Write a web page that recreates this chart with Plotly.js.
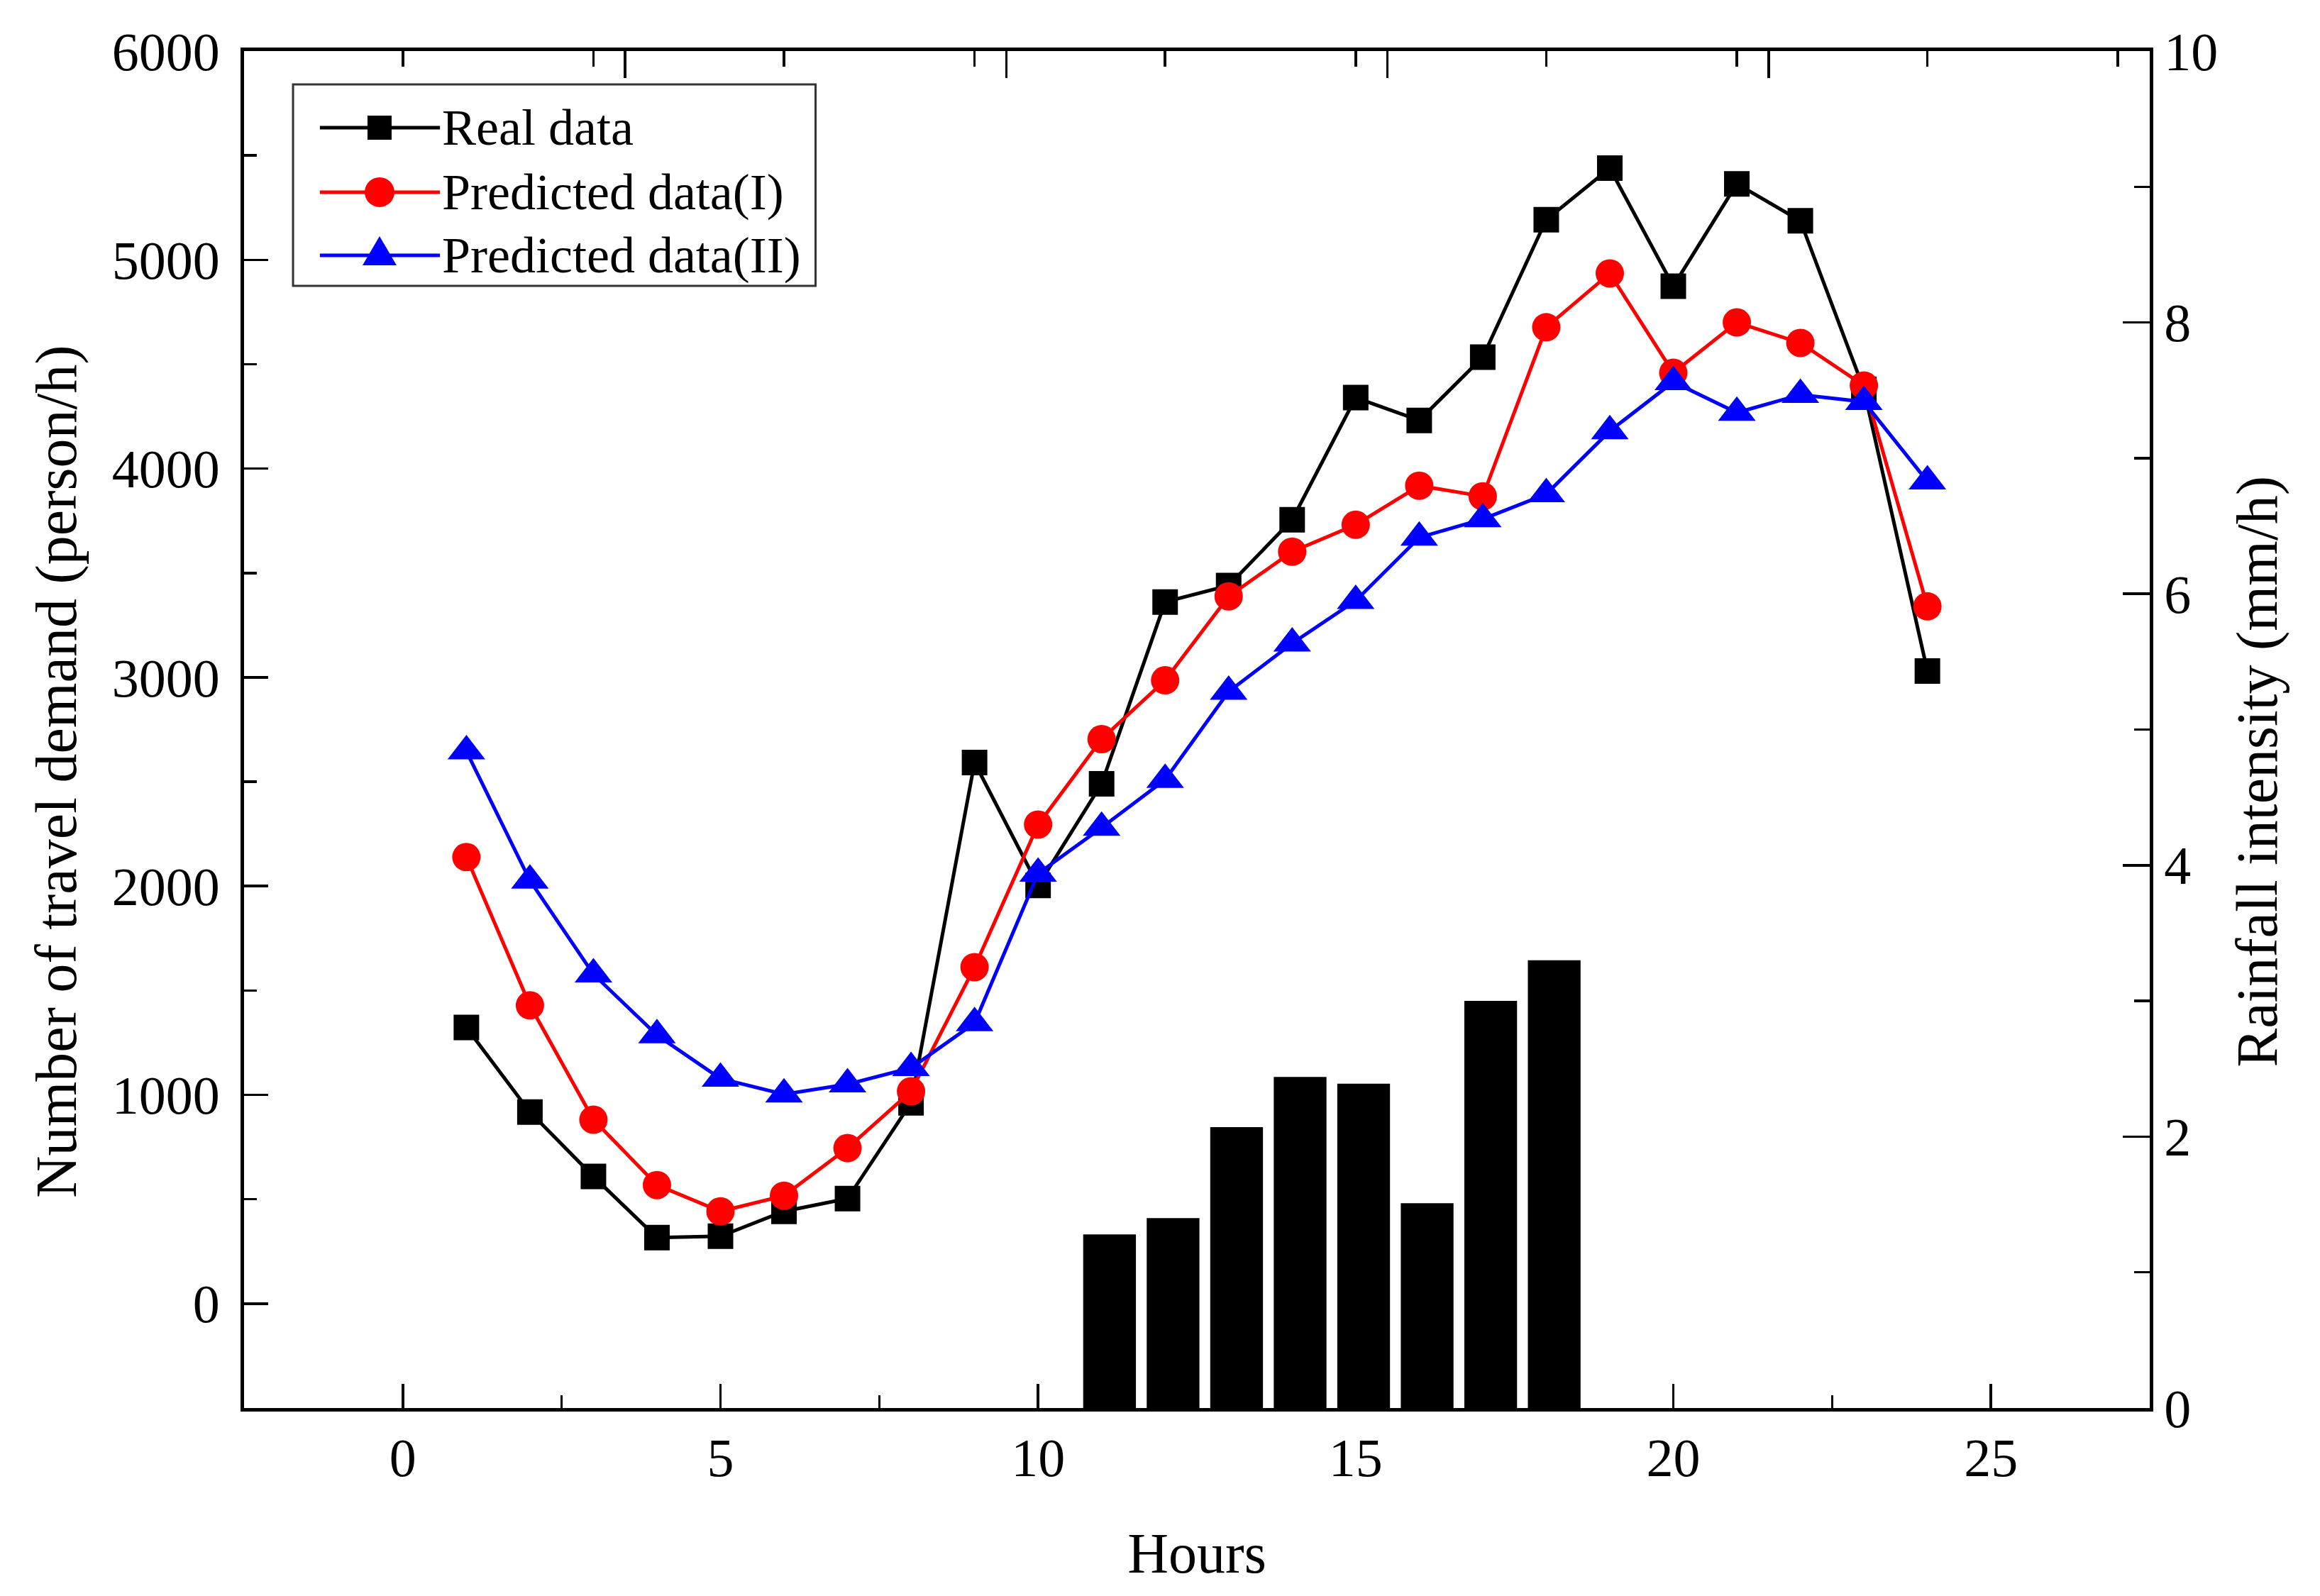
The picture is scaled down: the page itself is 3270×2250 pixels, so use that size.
<!DOCTYPE html>
<html>
<head>
<meta charset="utf-8">
<script src="https://cdn.plot.ly/plotly-3.0.1.min.js"></script>
<style>
  html, body { margin: 0; padding: 0; background: #fff; }
  #chart { width: 3270px; height: 2250px; }
</style>
</head>
<body>
<div id="chart"></div>
<script>
/* values */
const hours = [1, 2, 3, 4, 5, 6, 7, 8, 9, 10, 11, 12,
  13, 14, 15, 16, 17, 18, 19, 20, 21, 22, 23, 24];

const realData = [1323, 918, 609, 316, 323, 442, 503, 962, 2592, 2003, 2490, 3361,
  3440, 3755, 4340, 4231, 4534, 5192, 5439, 4874, 5364, 5187, 4380, 3030];

const predictedOne = [2139, 1429, 881, 568, 442, 517, 745, 1017, 1612, 2295, 2704, 2986,
  3388, 3602, 3731, 3918, 3867, 4677, 4935, 4459, 4700, 4602, 4398, 3340];

const predictedTwo = [2646, 2027, 1578, 1286, 1078, 1003, 1051, 1129, 1344, 2060, 2280, 2510,
  2932, 3163, 3367, 3670, 3758, 3878, 4180, 4415, 4268, 4354, 4320, 3939];

const rainHours = [11, 12, 13, 14, 15, 16, 17, 18];
const rainfall = [1.28, 1.40, 2.07, 2.44, 2.39, 1.51, 3.00, 3.30];

const seriesNames = ['Real data', 'Predicted data(I)', 'Predicted data(II)'];

const FONT = 'Liberation Serif, Times New Roman, serif';
const COLORS = ['#000', '#ff0000', '#0000ff'];

function lineTrace(name, y, color, symbol, size) {
  return {
    type: 'scatter',
    mode: 'lines+markers',
    name,
    x: hours,
    y,
    line: { color, width: 5 },
    marker: { color, symbol, size },
  };
}

const traces = [
  {
    type: 'bar',
    name: 'Rainfall',
    x: rainHours,
    y: rainfall,
    xaxis: 'x2',
    yaxis: 'y2',
    width: 0.83,
    offset: -0.29,
    marker: { color: '#000', line: { width: 0 } },
  },
  lineTrace(seriesNames[0], realData, COLORS[0], 'square', 36),
  lineTrace(seriesNames[1], predictedOne, COLORS[1], 'circle', 40),
  lineTrace(seriesNames[2], predictedTwo, COLORS[2], 'triangle-up', 46),
];

// Plotly caps legend marker size, so the legend is drawn by hand (paper coords)
const legendRows = [0.9436, 0.8960, 0.8495];
const legendShapes = [{
  type: 'rect', xref: 'paper', yref: 'paper',
  x0: 0.0257, x1: 0.2999, y0: 0.827, y1: 0.9754,
  line: { color: '#333', width: 3 }, fillcolor: '#fff',
}];
const markerShapes = [
  { type: 'rect', x0: -17, x1: 17, y0: -17, y1: 17 },
  { type: 'circle', x0: -21, x1: 21, y0: -21, y1: 21 },
  { type: 'path', path: 'M-24,-14 L24,-14 L0,27 Z' },
];
const notes = [];
legendRows.forEach((row, i) => {
  legendShapes.push({
    type: 'line', xref: 'paper', yref: 'paper',
    x0: 0.0398, x1: 0.1028, y0: row, y1: row,
    line: { color: COLORS[i], width: 5 },
  });
  legendShapes.push(Object.assign({
    xref: 'paper', yref: 'paper',
    xsizemode: 'pixel', ysizemode: 'pixel',
    xanchor: 0.0711, yanchor: row,
    fillcolor: COLORS[i], line: { width: 0 },
  }, markerShapes[i]));
  notes.push({
    xref: 'paper', yref: 'paper',
    x: 0.1030, y: row, xanchor: 'left', yanchor: 'middle',
    text: seriesNames[i], showarrow: false,
    font: { family: FONT, size: 72, color: '#000' },
  });
});

// axis titles sit a little below the centre in the original, so they are placed by hand
const titleFont = { family: FONT, size: 82, color: '#000' };
notes.push({
  xref: 'paper', yref: 'paper', x: -0.0983, y: 0.469,
  xanchor: 'center', yanchor: 'middle', textangle: -90, showarrow: false,
  text: 'Number of travel demand (person/h)', font: titleFont,
});
notes.push({
  xref: 'paper', yref: 'paper', x: 1.0565, y: 0.469,
  xanchor: 'center', yanchor: 'middle', textangle: -90, showarrow: false,
  text: 'Rainfall intensity (mm/h)', font: titleFont,
});

const baseAxis = {
  showline: true,
  linecolor: '#000',
  linewidth: 5,
  showgrid: false,
  zeroline: false,
  ticks: 'inside',
  ticklen: 34,
  tickwidth: 3.5,
  tickcolor: '#000',
  tickfont: { family: FONT, size: 76, color: '#000' },
  automargin: false,
};

const layout = {
  width: 3270,
  height: 2250,
  paper_bgcolor: '#fff',
  plot_bgcolor: '#fff',
  font: { family: FONT, color: '#000' },
  margin: { l: 344, r: 240, t: 72, b: 265 },
  barmode: 'overlay',
  showlegend: false,
  shapes: legendShapes,
  annotations: notes,
  xaxis: Object.assign({}, baseAxis, {
    range: [-2.5, 27.5],
    tick0: 0,
    dtick: 5,
    minor: { dtick: 2.5, ticks: 'inside', ticklen: 18, tickwidth: 3.5, tickcolor: '#000' },
    title: { text: 'Hours', font: { family: FONT, size: 80, color: '#000' }, standoff: 66 },
  }),
  xaxis2: Object.assign({}, baseAxis, {
    overlaying: 'x',
    side: 'top',
    anchor: 'y2',
    range: [-2.5, 27.5],
    tick0: 3.5,
    dtick: 6,
    ticklen: 38,
    showticklabels: false,
    minor: { dtick: 3, ticks: 'inside', ticklen: 22, tickwidth: 3.5, tickcolor: '#000' },
  }),
  yaxis: Object.assign({}, baseAxis, {
    range: [-500, 6000],
    tick0: 0,
    dtick: 1000,
    ticklabelstandoff: 14,
    minor: { dtick: 500, ticks: 'inside', ticklen: 18, tickwidth: 3.5, tickcolor: '#000' },
  }),
  yaxis2: Object.assign({}, baseAxis, {
    overlaying: 'y',
    side: 'right',
    anchor: 'x',
    range: [0, 10],
    tick0: 0,
    dtick: 2,
    ticklen: 38,
    minor: { dtick: 1, ticks: 'inside', ticklen: 22, tickwidth: 3.5, tickcolor: '#000' },
  }),
};

Plotly.newPlot('chart', traces, layout, { staticPlot: true, displayModeBar: false });
</script>
</body>
</html>
